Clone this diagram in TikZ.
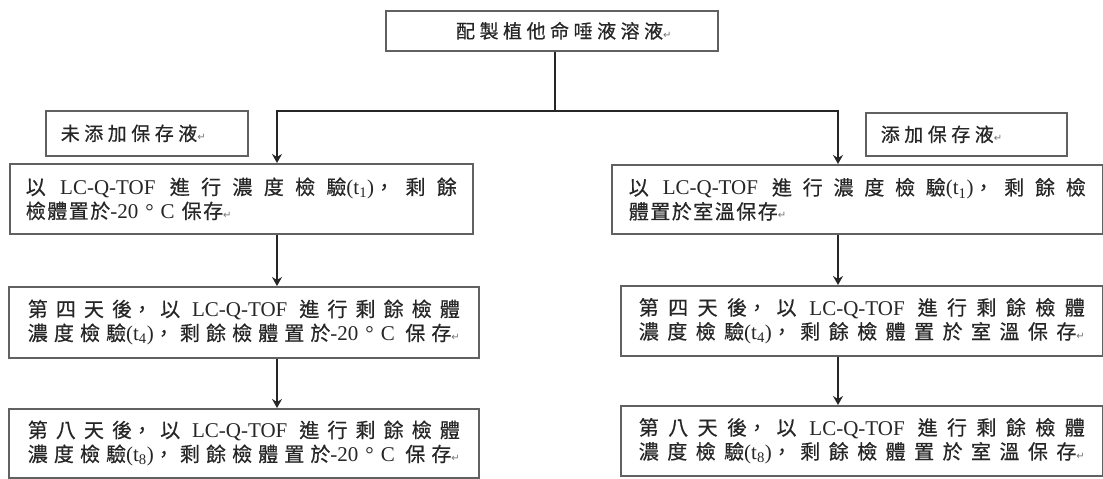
\documentclass[tikz,border=0pt]{standalone}
\usepackage{fontspec}
\setmainfont{Liberation Serif}
\newfontfamily\cjkfont{Noto Sans CJK TC}[FakeBold=0.5]
\newfontfamily\dvfont{DejaVu Sans}
\usetikzlibrary{arrows.meta}
\XeTeXlinebreaklocale "zh"
\XeTeXlinebreakskip=1.5pt plus 8pt\relax
\tolerance=10000 \hbadness=10000
\newcommand\lt[1]{{\rmfamily\fontsize{21}{24}\selectfont #1}}
\newcommand\gap{\nobreak\hspace{7pt plus 6pt}\nobreak}
\newcommand\lcq{\gap\lt{LC-Q-TOF}\gap}
\newcommand\mtemp{\lt{-20\hspace{7pt}°\hspace{7pt}C}\gap}
\newcommand\retm{{\dvfont\fontsize{10}{10}\selectfont\color{black!55}↵}}
\newcommand\fullpar{\parfillskip=0pt\relax}
\newcommand\bodyfont{\cjkfont\fontsize{20}{24}\selectfont\XeTeXlinebreakskip=1.5pt plus 8pt\relax}
\newcommand\widefont{\cjkfont\fontsize{19}{24}\selectfont\XeTeXlinebreakskip=4.5pt\relax}
\tikzset{
  box/.style={draw=black!62, line width=1.6pt, anchor=north west, inner ysep=0pt,
    font=\bodyfont, text=black!85},
  wbox/.style={box, font=\widefont},
  conn/.style={draw=black!85, line width=1.5pt},
  arrow/.style={conn, -{Stealth[length=9pt,width=10pt,inset=3pt]}}
}
\begin{document}
\begin{tikzpicture}[x=1pt,y=-1pt]
\useasboundingbox[fill=white] (0,0) rectangle (1103,479);
% top
\node[wbox, minimum height=40pt, text width=302pt, inner xsep=15pt, align=flush center] (top) at (385,10)
  {\hspace*{24pt}配製植他命唾液溶液\retm};
% labels
\node[wbox, minimum height=45pt, text width=172pt, inner xsep=15pt, align=flush left] (labL) at (45,110)
  {未添加保存液\retm};
\node[wbox, minimum height=43pt, text width=171pt, inner xsep=15pt, align=flush left] (labR) at (865,112)
  {添加保存液\retm};
% left column
\node[box, minimum height=70pt, text width=431pt, inner xsep=16pt, align=justify] (L1) at (9,163)
  {以\lcq 進行濃度檢驗\lt{(t\textsubscript{1})}，剩餘\linebreak 檢體置於\mtemp 保存\retm};
\node[box, minimum height=71pt, text width=432pt, inner xsep=19pt, align=justify] (L2) at (8,286)
  {\fullpar 第四天後，以\lcq 進行剩餘檢體\linebreak 濃度檢驗\lt{(t\textsubscript{4})}，剩餘檢體置於\mtemp 保存\retm\par};
\node[box, minimum height=69pt, text width=432pt, inner xsep=19pt, align=justify] (L3) at (8,408)
  {\fullpar 第八天後，以\lcq 進行剩餘檢體\linebreak 濃度檢驗\lt{(t\textsubscript{8})}，剩餘檢體置於\mtemp 保存\retm\par};
% right column
\node[box, minimum height=69pt, text width=457pt, inner xsep=17pt, align=justify] (R1) at (611,164)
  {以\lcq 進行濃度檢驗\lt{(t\textsubscript{1})}，剩餘檢\linebreak 體置於室溫保存\retm};
\node[box, minimum height=70pt, text width=446pt, inner xsep=18pt, align=justify] (R2) at (620,285)
  {\fullpar 第四天後，以\lcq 進行剩餘檢體\linebreak 濃度檢驗\lt{(t\textsubscript{4})}，剩餘檢體置於室溫保存\retm\par};
\node[box, minimum height=70pt, text width=446pt, inner xsep=18pt, align=justify] (R3) at (620,405)
  {\fullpar 第八天後，以\lcq 進行剩餘檢體\linebreak 濃度檢驗\lt{(t\textsubscript{8})}，剩餘檢體置於室溫保存\retm\par};
% connectors
\coordinate (j) at (555,111);
\coordinate (aL) at (277,0);
\coordinate (aR) at (838,0);
\draw[arrow] (top.south -| j) -- (j) -| (L1.north -| aL);
\draw[arrow] (top.south -| j) -- (j) -| (R1.north -| aR);
\draw[arrow] (L1.south -| aL) -- (L2.north -| aL);
\draw[arrow] (L2.south -| aL) -- (L3.north -| aL);
\draw[arrow] (R1.south -| aR) -- (R2.north -| aR);
\draw[arrow] (R2.south -| aR) -- (R3.north -| aR);
\end{tikzpicture}
\end{document}
